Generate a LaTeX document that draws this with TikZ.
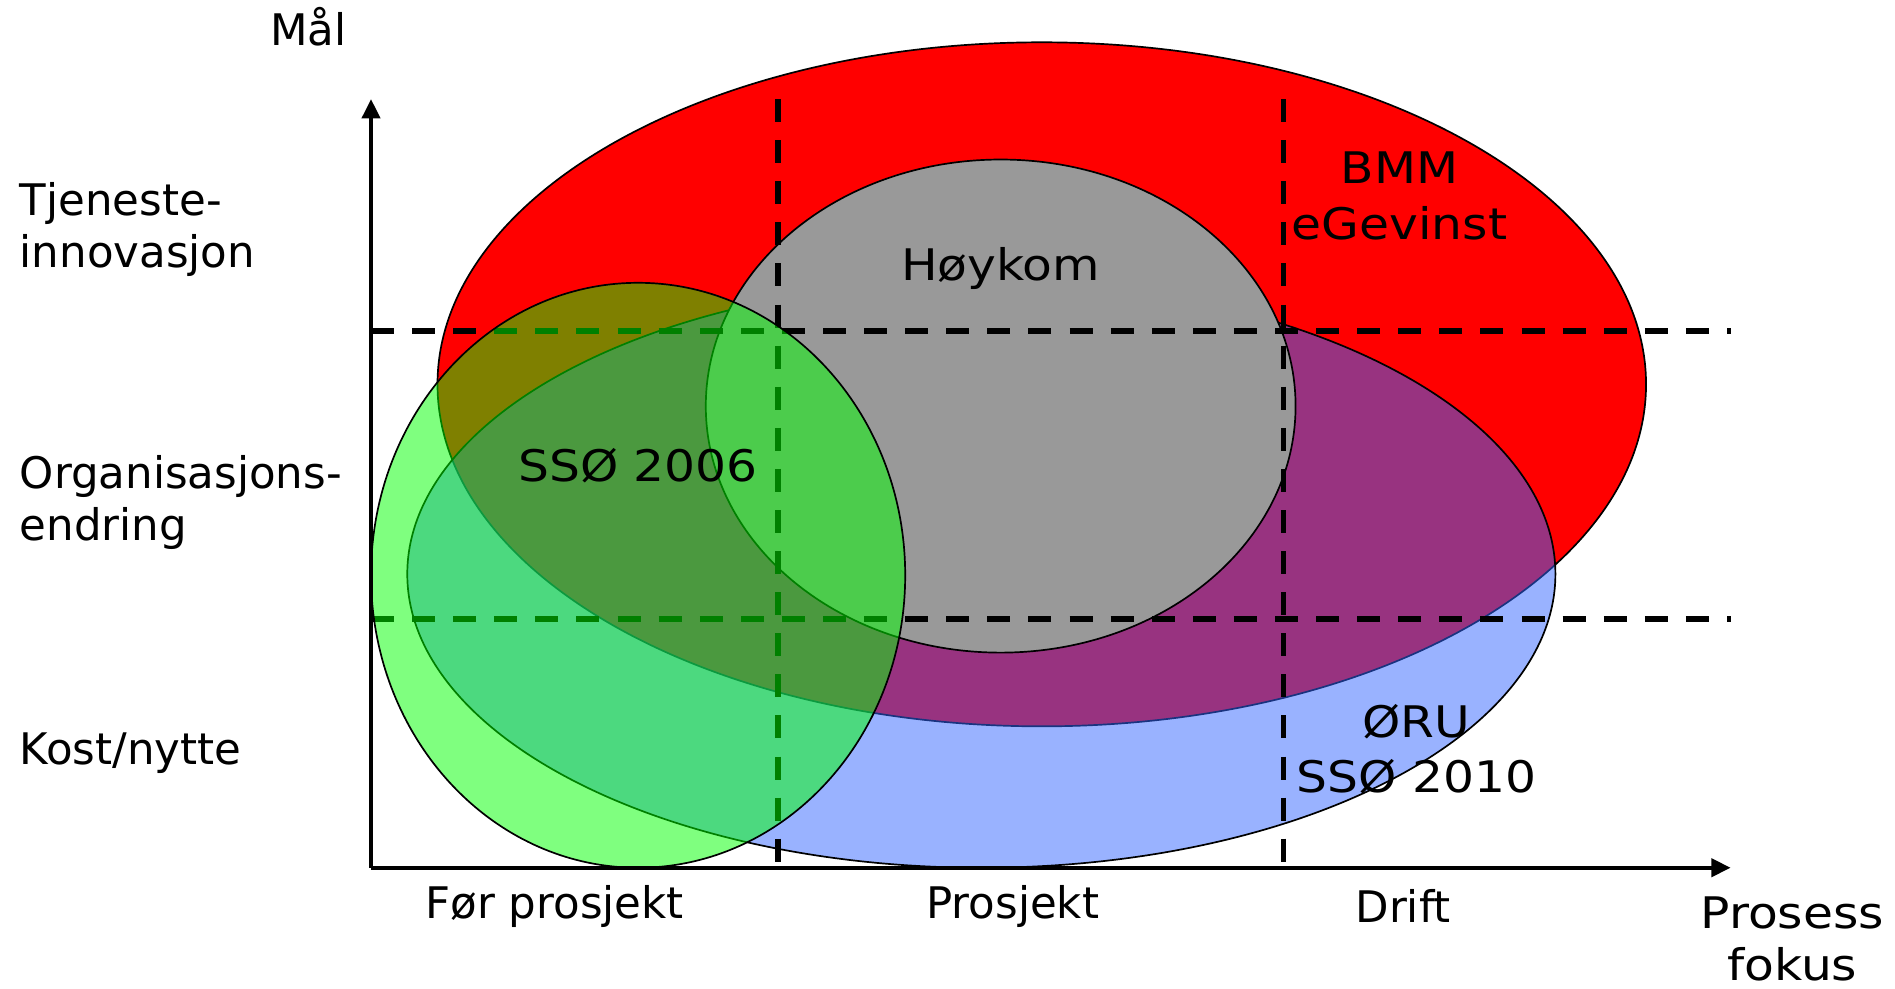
\documentclass[tikz,border=0pt]{standalone}
\usepackage{fontspec}
\setmainfont{DejaVu Sans}
\usetikzlibrary{arrows.meta,positioning}
\definecolor{bmm}{HTML}{FF0000}
\definecolor{oru}{HTML}{3366FF}
\definecolor{hoy}{HTML}{999999}
\definecolor{sso}{HTML}{00FF00}
\newcommand{\wide}[1]{\scalebox{1.12}[1]{#1}}

\begin{document}
\begin{tikzpicture}[x=0.5pt, y=-0.5pt,
    lbl/.style={font=\fontsize{18}{21.5}\selectfont, inner sep=0pt, align=center},
    inlbl/.style={lbl, font=\fontsize{18}{23}\selectfont},
    side/.style={lbl, anchor=west, align=left},
    grid/.style={line width=2.4pt, dash pattern=on 9.5pt off 7.5pt},
    axis/.style={line width=1.6pt, -{Triangle[length=8pt,width=7.5pt]}},
    blob/.style={draw=black, line width=0.7pt}]
  \useasboundingbox (0,0) rectangle (1568,818);

  % sets
  \draw [blob, fill=bmm] (862,318) ellipse [x radius=500, y radius=283];
  \draw [blob, fill=oru, fill opacity=0.5] (812,475) ellipse [x radius=475, y radius=243];
  \draw [blob, fill=hoy] (828,336) ellipse [x radius=244, y radius=204];

  % grid
  \coordinate (o) at (307,718);
  \coordinate (ytop) at (307,82);
  \coordinate (xend) at (1432,718);
  \coordinate (h1a) at (307,274);
  \coordinate (h1b) at (1432,274);
  \coordinate (h2a) at (307,512);
  \coordinate (h2b) at (1432,512);
  \coordinate (v1a) at (644,82);
  \coordinate (v1b) at (644,718);
  \coordinate (v2a) at (1062,82);
  \coordinate (v2b) at (1062,718);
  \draw [grid] (h1a) -- (h1b);
  \draw [grid] (h2a) -- (h2b);
  \draw [grid] (v1a) -- (v1b);
  \draw [grid] (v2a) -- (v2b);

  \draw [blob, fill=sso, fill opacity=0.5] (528,476) ellipse [x radius=221, y radius=242];

  % axes
  \draw [axis] (o) -- (ytop);
  \draw [axis] (o) -- (xend);

  % labels
  \node [lbl] (mal) at (255,22) {Mål};
  \node [side] (tj) at (16,190) {Tjeneste-\\innovasjon};
  \node [side] (org) at (16,416) {Organisasjons-\\endring};
  \node [side] (kost) at (16,623) {Kost/nytte};
  \node [lbl] (forp) at (459,750) {Før prosjekt};
  \node [lbl] (prosj) at (838,750) {Prosjekt};
  \node [lbl] (drift) at (1161,750) {Drift};
  \node [lbl] (pf) at (1483,777) {\wide{Prosess}\\\wide{fokus}};
  \node [inlbl] (bmm) at (1158,162) {\wide{BMM}\\\wide{eGevinst}};
  \node [inlbl] (hk) at (828,222) {\wide{Høykom}};
  \node [inlbl] (s06) at (528,385) {\wide{SSØ 2006}};
  \node [inlbl] (oru) at (1172,620) {\wide{ØRU}\\\wide{SSØ 2010}};
\end{tikzpicture}
\end{document}
